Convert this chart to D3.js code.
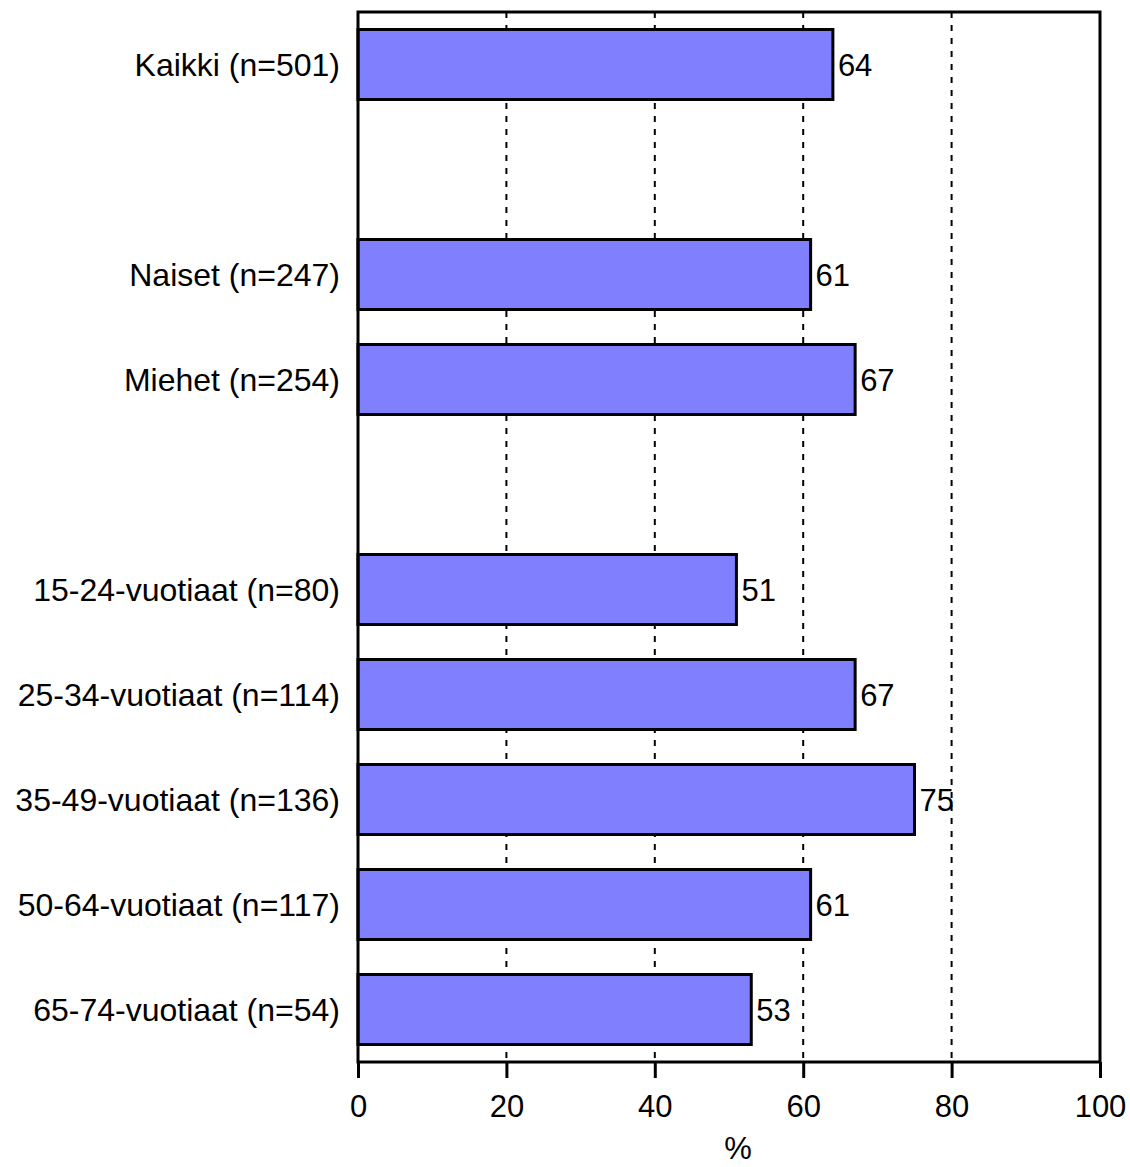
<!DOCTYPE html>
<html><head><meta charset="utf-8">
<script src="https://cdn.jsdelivr.net/npm/d3@7"></script>
<style>body{margin:0;background:#fff}svg{display:block}</style>
</head><body>
<svg id="c" width="1130" height="1167"></svg>
<script>
const categories = ["Kaikki (n=501)", "gap1", "Naiset (n=247)", "Miehet (n=254)", "gap2",
  "15-24-vuotiaat (n=80)", "25-34-vuotiaat (n=114)", "35-49-vuotiaat (n=136)", "50-64-vuotiaat (n=117)", "65-74-vuotiaat (n=54)"];
const values = [64, null, 61, 67, null, 51, 67, 75, 61, 53];
const xTicks = [0, 20, 40, 60, 80, 100];
const gridTicks = [20, 40, 60, 80];
const xTitle = "%";

const svg = d3.select("#c");
const L = 358, R = 1100, T = 12, B = 1062;
const font = "'Liberation Sans', Arial, sans-serif";
const fs = 31;
const x = d3.scaleLinear().domain([0, 100]).range([L, R]);
const y = d3.scaleBand().domain(categories).range([T, B]).paddingInner(1/3).paddingOuter(1/6);

// grid
svg.append("g").selectAll("line").data(gridTicks).join("line")
  .attr("x1", d => x(d)).attr("x2", d => x(d)).attr("y1", T).attr("y2", B)
  .attr("stroke", "#000").attr("stroke-width", 2).attr("stroke-dasharray", "6,7");

const data = categories.map((c, i) => ({c, v: values[i]})).filter(d => d.v !== null);

svg.append("g").selectAll("rect").data(data).join("rect")
  .attr("x", x(0)).attr("y", d => y(d.c))
  .attr("width", d => x(d.v) - x(0)).attr("height", y.bandwidth())
  .attr("fill", "#8080ff").attr("stroke", "#000").attr("stroke-width", 3);

svg.append("g").selectAll("text").data(data).join("text")
  .attr("x", d => x(d.v) + 5).attr("y", d => y(d.c) + y.bandwidth() / 2)
  .attr("dy", "0.36em").attr("font-family", font).attr("font-size", fs)
  .text(d => d.v);

svg.append("g").selectAll("text").data(data).join("text")
  .attr("x", 340).attr("y", d => y(d.c) + y.bandwidth() / 2)
  .attr("dy", "0.36em").attr("text-anchor", "end").attr("font-family", font).attr("font-size", 32)
  .text(d => d.c);

// frame
svg.append("rect").attr("x", L).attr("y", T).attr("width", R - L).attr("height", B - T)
  .attr("fill", "none").attr("stroke", "#000").attr("stroke-width", 3);

// x axis
const ax = svg.append("g").attr("transform", `translate(0,${B})`)
  .call(d3.axisBottom(x).tickValues(xTicks).tickSize(16).tickPadding(17));
ax.select(".domain").remove();
ax.selectAll(".tick line").attr("stroke", "#000").attr("stroke-width", 3);
ax.selectAll(".tick text").attr("font-family", font).attr("font-size", fs).attr("fill", "#000");

svg.append("text").attr("x", 738).attr("y", 1159).attr("text-anchor", "middle")
  .attr("font-family", font).attr("font-size", fs).text(xTitle);
</script>
</body></html>
